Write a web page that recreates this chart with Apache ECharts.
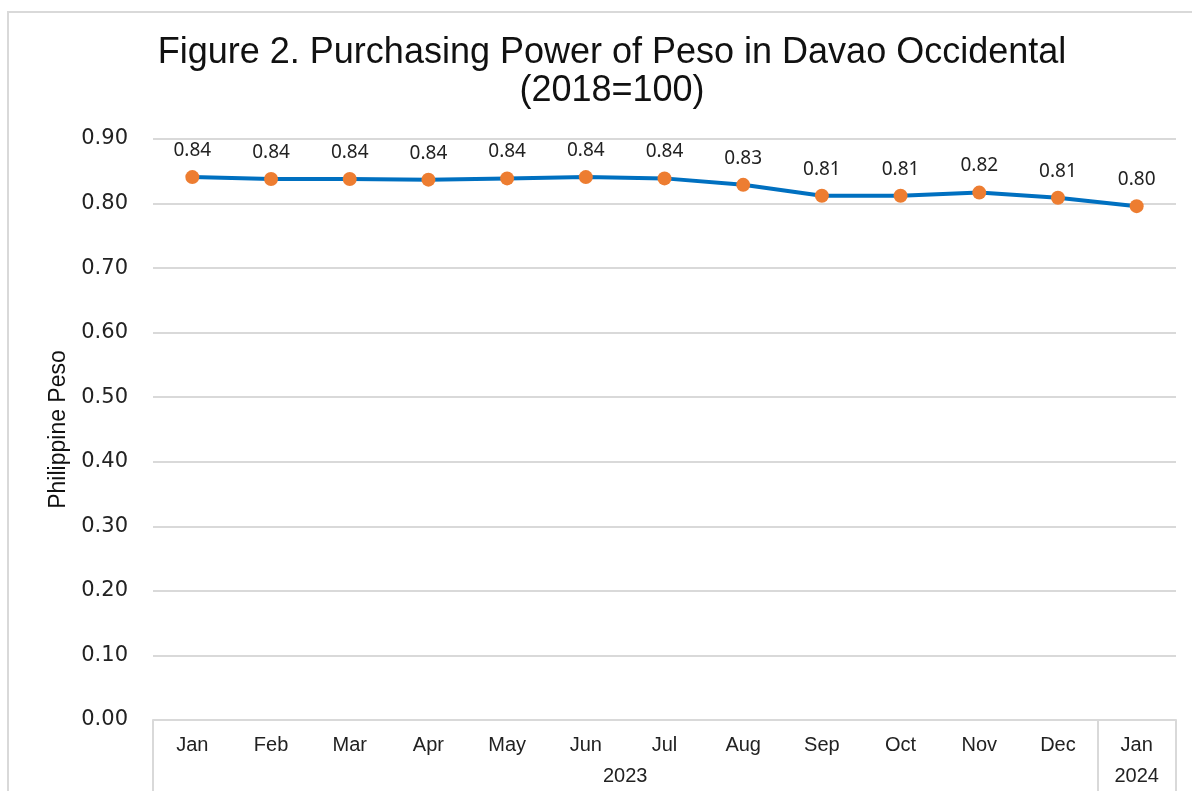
<!DOCTYPE html>
<html>
<head>
<meta charset="utf-8">
<script src="https://cdn.jsdelivr.net/npm/echarts@6/dist/echarts.min.js"></script>
<style>
  html, body { margin: 0; padding: 0; background: #fff; }
  #chart { width: 1192px; height: 791px; }
</style>
</head>
<body>
<div id="chart"></div>
<script>
// data
const months = ['Jan', 'Feb', 'Mar', 'Apr', 'May', 'Jun', 'Jul', 'Aug', 'Sep', 'Oct', 'Nov', 'Dec', 'Jan']
const years = ['2023', '2024']
const yearCenters = [6, 12.5]
const yearBounds = [0, 12, 13]
const pesoValues = [0.841, 0.838, 0.838, 0.837, 0.839, 0.841, 0.839, 0.829, 0.812, 0.812, 0.817, 0.809, 0.796]

const chart = echarts.init(document.getElementById('chart'))

const option = {
  backgroundColor: '#fff',
  animation: false,
  title: {
    text: 'Figure 2. Purchasing Power of Peso in Davao Occidental\n(2018=100)',
    left: 607,
    textAlign: 'center',
    top: 29,
    textStyle: {
      fontFamily: 'Liberation Sans, Arial, sans-serif',
      fontSize: 36,
      fontWeight: 'normal',
      color: '#111',
      lineHeight: 38
    }
  },
  // light frame round the chart area, like the exported picture
  graphic: [{
    type: 'polyline',
    shape: { points: [[8, 791], [8, 12], [1192, 12]] },
    style: { stroke: '#d9d9d9', lineWidth: 2, fill: null },
    silent: true
  }],
  grid: { left: 153, right: 16, top: 139, bottom: 71 },
  xAxis: [{
    type: 'category',
    data: months,
    boundaryGap: true,
    axisLine: { show: true, lineStyle: { color: '#d9d9d9', width: 2 } },
    axisTick: { show: false },
    axisLabel: {
      margin: 15,
      fontFamily: 'Liberation Sans, Arial, sans-serif',
      fontSize: 20,
      color: '#222'
    }
  }, {
    type: 'value',
    min: 0,
    max: 13,
    position: 'bottom',
    axisLine: { show: false },
    splitLine: { show: false },
    axisTick: {
      show: true,
      customValues: yearBounds,
      length: 72,
      lineStyle: { color: '#d9d9d9', width: 2 }
    },
    axisLabel: {
      customValues: yearCenters,
      margin: 46,
      formatter: (v) => years[yearCenters.indexOf(v)] || '',
      fontFamily: 'Liberation Sans, Arial, sans-serif',
      fontSize: 20,
      color: '#222'
    }
  }],
  yAxis: {
    type: 'value',
    min: 0,
    max: 0.9,
    interval: 0.1,
    name: 'Philippine Peso',
    nameLocation: 'middle',
    nameGap: 82,
    nameTextStyle: {
      fontFamily: 'Liberation Sans, Arial, sans-serif',
      fontSize: 23,
      color: '#111'
    },
    axisLine: { show: false },
    axisTick: { show: false },
    axisLabel: {
      margin: 25,
      formatter: (v) => v.toFixed(2),
      fontFamily: 'DejaVu Sans, sans-serif',
      fontSize: 21,
      color: '#222'
    },
    splitLine: { lineStyle: { color: '#d9d9d9', width: 2 } }
  },
  series: [{
    type: 'line',
    data: pesoValues,
    xAxisIndex: 0,
    yAxisIndex: 0,
    symbol: 'circle',
    symbolSize: 14,
    lineStyle: { color: '#0070c0', width: 4 },
    itemStyle: { color: '#ed7d31' },
    label: {
      show: true,
      position: 'top',
      distance: 10,
      formatter: (p) => p.value.toFixed(2),
      fontFamily: 'Noto Sans, DejaVu Sans, sans-serif',
      fontSize: 19,
      color: '#222'
    }
  }]
}

chart.setOption(option)
</script>
</body>
</html>
